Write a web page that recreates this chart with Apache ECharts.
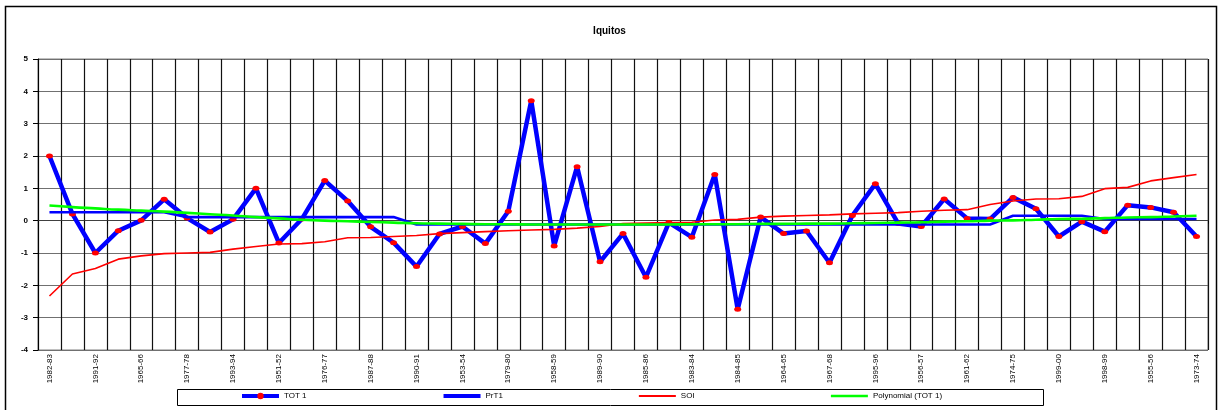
<!DOCTYPE html>
<html>
<head>
<meta charset="utf-8">
<script src="https://cdn.jsdelivr.net/npm/echarts@6/dist/echarts.min.js"></script>
<style>
html,body{margin:0;padding:0;background:#fff;}
#chart{width:1219px;height:410px;}
</style>
</head>
<body>
<div id="chart"></div>
<script>
var categories = ["1982-83","1950-51","1991-92","1952-53","1965-66","1954-55","1977-78","1957-58","1993-94","1959-60",
  "1951-52","1960-61","1976-77","1962-63","1987-88","1963-64","1990-91","1966-67","1953-54","1968-69",
  "1979-80","1969-70","1958-59","1970-71","1989-90","1971-72","1985-86","1972-73","1983-84","1975-76",
  "1984-85","1978-79","1964-65","1980-81","1967-68","1981-82","1995-96","1986-87","1956-57","1988-89",
  "1961-62","1992-93","1974-75","1994-95","1999-00","1996-97","1998-99","1997-98","1955-56","2000-01","1973-74"];

var tot1 = [2.0, 0.21, -1.0, -0.31, 0.01, 0.66, 0.08, -0.35, 0.04, 1.0,
  -0.69, 0.05, 1.24, 0.61, -0.19, -0.68, -1.42, -0.41, -0.18, -0.71,
  0.29, 3.71, -0.78, 1.67, -1.27, -0.40, -1.75, -0.06, -0.51, 1.43,
  -2.74, 0.11, -0.40, -0.32, -1.30, 0.16, 1.14, -0.09, -0.18, 0.67,
  0.07, 0.05, 0.72, 0.37, -0.49, -0.03, -0.34, 0.48, 0.41, 0.26, -0.49];

var prt1 = [0.26, 0.26, 0.26, 0.26, 0.26, 0.26, 0.11, 0.11, 0.11, 0.11,
  0.11, 0.11, 0.11, 0.11, 0.11, 0.11, -0.12, -0.12, -0.12, -0.12,
  -0.12, -0.12, -0.12, -0.12, -0.12, -0.12, -0.12, -0.12, -0.12, -0.12,
  -0.12, -0.12, -0.12, -0.12, -0.12, -0.12, -0.12, -0.12, -0.12, -0.12,
  -0.12, -0.12, 0.15, 0.15, 0.15, 0.15, 0.05, 0.05, 0.05, 0.05, 0.05];

var soi = [-2.33, -1.65, -1.48, -1.19, -1.09, -1.02, -1.0, -0.98, -0.88, -0.80,
  -0.72, -0.71, -0.65, -0.53, -0.52, -0.49, -0.46, -0.40, -0.37, -0.34,
  -0.31, -0.29, -0.27, -0.23, -0.18, -0.09, -0.07, -0.06, -0.05, 0.02,
  0.04, 0.11, 0.14, 0.16, 0.18, 0.21, 0.23, 0.25, 0.29, 0.32,
  0.34, 0.50, 0.61, 0.67, 0.68, 0.75, 0.99, 1.03, 1.23, 1.33, 1.43];

var poly = [0.47, 0.42, 0.38, 0.34, 0.31, 0.28, 0.24, 0.20, 0.16, 0.11,
  0.07, 0.03, 0.00, -0.02, -0.04, -0.06, -0.08, -0.09, -0.10, -0.11,
  -0.11, -0.12, -0.12, -0.12, -0.12, -0.12, -0.12, -0.12, -0.11, -0.11,
  -0.11, -0.10, -0.10, -0.09, -0.09, -0.08, -0.07, -0.06, -0.05, -0.03,
  -0.02, 0.00, 0.01, 0.03, 0.05, 0.06, 0.08, 0.10, 0.11, 0.13, 0.15];

var seriesNames = ["TOT 1", "PrT1", "SOI", "Polynomial (TOT 1)"];
var chartTitle = "Iquitos";

var FONT = "'Liberation Sans', Arial, sans-serif";
var chart = echarts.init(document.getElementById('chart'), null, {renderer: 'canvas'});

chart.setOption({
  animation: false,
  backgroundColor: '#ffffff',
  title: {
    text: chartTitle,
    left: 'center',
    top: 21,
    textStyle: {fontFamily: FONT, fontSize: 10, fontWeight: 'bold', color: '#000'}
  },
  grid: {
    left: 38, right: 11, top: 59, bottom: 60,
    show: true, borderColor: '#808080', borderWidth: 1, backgroundColor: '#fff'
  },
  legend: {
    left: 240, top: 392,
    itemWidth: 37, itemHeight: 8, itemGap: 135,
    padding: 0,
    textStyle: {fontFamily: FONT, fontSize: 8, color: '#000'},
    data: [
      {name: seriesNames[0], lineStyle: {width: 4, color: '#0000ff'}, itemStyle: {color: '#ff0000'}},
      {name: seriesNames[1], lineStyle: {width: 4, color: '#0000ff'}, itemStyle: {opacity: 0}},
      {name: seriesNames[2], lineStyle: {width: 2, color: '#ff0000'}, itemStyle: {opacity: 0}},
      {name: seriesNames[3], lineStyle: {width: 2.5, color: '#00ff00'}, itemStyle: {opacity: 0}}
    ]
  },
  xAxis: {
    type: 'category',
    data: categories,
    boundaryGap: true,
    axisLine: {lineStyle: {color: '#404040', width: 1}},
    axisTick: {show: true, interval: 0, length: 3, lineStyle: {color: '#000'}},
    splitLine: {show: true, interval: 0, lineStyle: {color: '#111', width: 1.2}},
    axisLabel: {
      interval: 1, rotate: 90, fontSize: 8, fontFamily: FONT, color: '#000', margin: 4
    }
  },
  yAxis: {
    type: 'value',
    min: -4, max: 5, interval: 1,
    axisLine: {show: true, lineStyle: {color: '#000', width: 1}},
    axisTick: {show: true, length: 5, lineStyle: {color: '#000'}},
    splitLine: {show: true, lineStyle: {color: '#707070', width: 1.2}},
    axisLabel: {fontSize: 8, fontWeight: 'bold', fontFamily: FONT, color: '#000', margin: 10}
  },
  series: [
    {
      name: seriesNames[0], type: 'line', data: tot1,
      symbol: 'circle', symbolSize: [7, 5], showSymbol: true,
      lineStyle: {color: '#0000ff', width: 4.5},
      itemStyle: {color: '#ff0000', borderWidth: 0},
      color: '#0000ff',
      z: 2
    },
    {
      name: seriesNames[1], type: 'line', data: prt1,
      symbol: 'none',
      lineStyle: {color: '#0000ff', width: 2.6},
      itemStyle: {color: '#0000ff'},
      color: '#0000ff',
      z: 3
    },
    {
      name: seriesNames[2], type: 'line', data: soi,
      symbol: 'none',
      lineStyle: {color: '#ff0000', width: 1.6},
      itemStyle: {color: '#ff0000'},
      color: '#ff0000',
      z: 4
    },
    {
      name: seriesNames[3], type: 'line', data: poly, smooth: true,
      symbol: 'none',
      lineStyle: {color: '#00ff00', width: 2.6},
      itemStyle: {color: '#00ff00'},
      color: '#00ff00',
      z: 5
    }
  ],
  graphic: [
    {type: 'rect', shape: {x: 5.5, y: 6.5, width: 1211, height: 420}, style: {fill: null, stroke: '#000', lineWidth: 1.5}, z: 100},
    {type: 'rect', shape: {x: 177.5, y: 389.5, width: 866, height: 16}, style: {fill: null, stroke: '#000', lineWidth: 1}, z: 100}
  ]
});
</script>
</body>
</html>
